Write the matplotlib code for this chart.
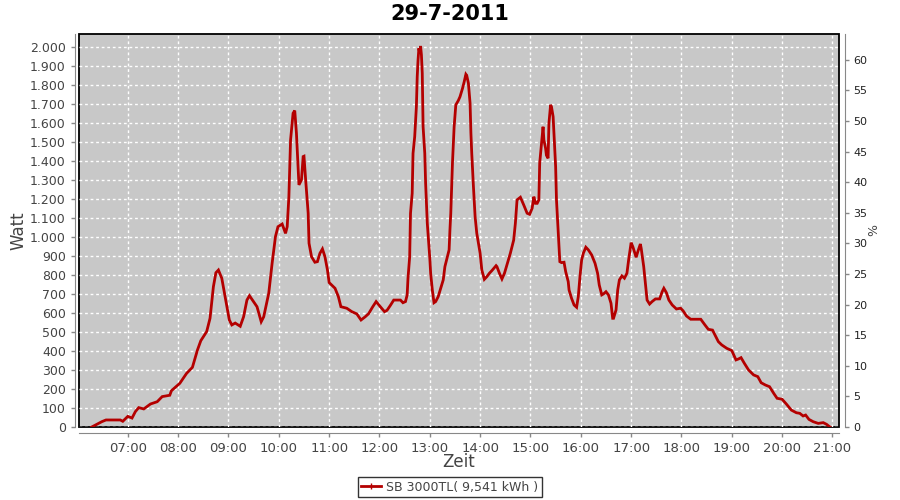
import matplotlib.pyplot as plt
from matplotlib.ticker import FuncFormatter, MultipleLocator
from matplotlib.lines import Line2D

# sample times (HH:MM) and power in Watt
times = [
    "06:17", "06:29", "06:34", "06:51", "06:54", "07:00", "07:05", "07:09", "07:13", "07:19",
    "07:27", "07:35", "07:41", "07:50", "07:52", "08:02", "08:10", "08:17", "08:23", "08:27",
    "08:34", "08:38", "08:42", "08:45", "08:48", "08:52", "08:56", "09:01", "09:04", "09:08",
    "09:14", "09:18", "09:22", "09:25", "09:29", "09:34", "09:39", "09:42", "09:48", "09:52",
    "09:56", "09:59", "10:04", "10:08", "10:10", "10:12", "10:14", "10:17", "10:19", "10:21",
    "10:23", "10:24", "10:27", "10:29", "10:30", "10:32", "10:35", "10:36", "10:39", "10:43",
    "10:46", "10:49", "10:52", "10:55", "10:58", "11:00", "11:07", "11:11", "11:14", "11:21",
    "11:27", "11:33", "11:38", "11:43", "11:47", "11:52", "11:56", "12:01", "12:06", "12:09",
    "12:13", "12:17", "12:25", "12:28", "12:31", "12:33", "12:34", "12:36", "12:37", "12:39",
    "12:40", "12:42", "12:44", "12:45", "12:46", "12:47", "12:48", "12:49", "12:50", "12:51",
    "12:52", "12:54", "12:55", "12:57", "13:00", "13:01", "13:03", "13:05", "13:07", "13:10",
    "13:13", "13:16", "13:18", "13:21", "13:23", "13:24", "13:25", "13:27", "13:29", "13:31",
    "13:34", "13:36", "13:39", "13:41", "13:43", "13:44", "13:46", "13:48", "13:49", "13:50",
    "13:52", "13:54", "13:56", "13:58", "14:00", "14:02", "14:05", "14:08", "14:11", "14:14",
    "14:19", "14:20", "14:23", "14:26", "14:29", "14:33", "14:36", "14:40", "14:42", "14:44",
    "14:48", "14:52", "14:56", "14:59", "15:02", "15:04", "15:06", "15:08", "15:10", "15:11",
    "15:14", "15:15", "15:16", "15:18", "15:19", "15:21", "15:22", "15:24", "15:25", "15:27",
    "15:28", "15:30", "15:31", "15:33", "15:35", "15:37", "15:40", "15:42", "15:45", "15:46",
    "15:49", "15:52", "15:55", "15:57", "15:59", "16:01", "16:03", "16:06", "16:09", "16:13",
    "16:17", "16:20", "16:22", "16:25", "16:27", "16:30", "16:33", "16:36", "16:38", "16:39",
    "16:42", "16:44", "16:46", "16:49", "16:52", "16:55", "16:57", "17:00", "17:02", "17:06",
    "17:08", "17:11", "17:12", "17:15", "17:17", "17:19", "17:22", "17:25", "17:29", "17:34",
    "17:37", "17:39", "17:42", "17:45", "17:49", "17:54", "17:59", "18:02", "18:06", "18:11",
    "18:23", "18:28", "18:32", "18:37", "18:40", "18:44", "18:48", "18:54", "19:00", "19:05",
    "19:08", "19:11", "19:15", "19:20", "19:26", "19:31", "19:35", "19:40", "19:45", "19:50",
    "19:54", "20:00", "20:05", "20:11", "20:17", "20:21", "20:25", "20:28", "20:32", "20:37",
    "20:43", "20:49", "20:53", "20:57",
]
watt = [
    0, 28, 37, 37, 30, 56, 47, 81, 102, 95,
    121, 133, 160, 167, 191, 230, 282, 314, 405, 454,
    502, 572, 738, 812, 826, 783, 686, 563, 537, 547,
    530, 580, 668, 691, 665, 633, 554, 580, 704, 861,
    1002, 1054, 1068, 1019, 1054, 1212, 1510, 1651, 1665, 1546,
    1370, 1274, 1300, 1423, 1425, 1300, 1125, 967, 896, 867,
    870, 914, 937, 896, 826, 760, 730, 686, 633, 625,
    607, 595, 563, 580, 596, 633, 660, 633, 607, 614,
    640, 668, 668, 654, 660, 695, 783, 896, 1125, 1230,
    1440, 1528, 1686, 1844, 1932, 1993, 1967, 2005, 1958, 1861,
    1580, 1440, 1283, 1072, 888, 809, 721, 654, 660, 686,
    730, 774, 844, 896, 932, 1037, 1125, 1388, 1580, 1695,
    1718, 1738, 1782, 1817, 1856, 1850, 1809, 1704, 1546, 1440,
    1265, 1107, 1019, 967, 914, 826, 777, 791, 809, 823,
    849, 844, 809, 779, 809, 870, 914, 984, 1072, 1195,
    1209, 1168, 1125, 1119, 1151, 1212, 1177, 1177, 1195, 1388,
    1528, 1580, 1510, 1467, 1430, 1414, 1598, 1695, 1686, 1633,
    1546, 1370, 1195, 1037, 870, 865, 867, 817, 765, 721,
    677, 642, 630, 686, 791, 879, 914, 946, 932, 905,
    861, 809, 747, 695, 700, 712, 695, 651, 572, 572,
    616, 721, 774, 795, 783, 809, 879, 970, 949, 893,
    923, 963, 940, 844, 756, 668, 647, 660, 674, 674,
    712, 730, 707, 668, 642, 621, 625, 611, 584, 567,
    567, 537, 514, 510, 484, 449, 432, 414, 402, 353,
    358, 365, 335, 300, 274, 265, 233, 221, 212, 177,
    151, 146, 121, 89, 75, 72, 58, 63, 40, 28,
    19, 23, 14, 0,
]

hours = [int(t[:2]) + int(t[3:]) / 60 for t in times]

TEXT = "#444444"
AXIS = "#888888"

fig = plt.figure(figsize=(9, 5), dpi=100)
ax = fig.add_axes([79 / 900, 1 - 427 / 500, 760 / 900, 393 / 500])
ax.set_facecolor("#c8c8c8")
ax.patch.set_edgecolor("black")
ax.patch.set_linewidth(1.3)

ax.plot(hours, watt, color="#b40000", linewidth=2.0, solid_joinstyle="miter")

ax.set_xlim(6.03, 21.13)
ax.set_ylim(0, 2068)
ax.xaxis.set_major_locator(MultipleLocator(1))
ax.xaxis.set_major_formatter(FuncFormatter(lambda v, p: f"{int(round(v)):02d}:00"))
ax.yaxis.set_major_locator(MultipleLocator(100))
ax.yaxis.set_major_formatter(FuncFormatter(lambda v, p: f"{int(v):,}".replace(",", ".")))
ax.grid(True, color="white", linestyle=(0, (2, 2)), linewidth=1)

for s in ["top", "right"]:
    ax.spines[s].set_visible(False)
ax.spines["left"].set_position(("outward", 3))
ax.spines["bottom"].set_position(("outward", 4))
ax.spines["left"].set_color(AXIS)
ax.spines["bottom"].set_color(AXIS)
ax.tick_params(colors=AXIS, labelcolor=TEXT, length=3, width=1)
ax.tick_params(axis="y", labelsize=9)
ax.tick_params(axis="x", labelsize=9.5)

ax.set_ylabel("Watt", fontsize=12, color=TEXT, labelpad=2)
ax.set_xlabel("Zeit", fontsize=12, color=TEXT, labelpad=-1)

ax2 = ax.twinx()
ax2.set_ylim(0, 64.2)
ax2.yaxis.set_major_locator(MultipleLocator(5))
for s in ["top", "left", "bottom"]:
    ax2.spines[s].set_visible(False)
ax2.spines["right"].set_position(("outward", 4))
ax2.spines["right"].set_color(AXIS)
ax2.tick_params(colors=AXIS, labelcolor="#222222", labelsize=8, length=3, width=1)
ax2.set_ylabel("%", fontsize=9, color=TEXT, labelpad=0)

fig.suptitle("29-7-2011", x=0.5, y=1 - 4 / 500, va="top", fontsize=15, fontweight="bold")

handle = Line2D([], [], color="#b40000", linewidth=2, marker="|", markersize=4)
fig.legend([handle], ["SB 3000TL( 9,541 kWh )"], loc="center", bbox_to_anchor=(450 / 900, 1 - 487 / 500),
           fontsize=9, frameon=True, fancybox=False, edgecolor="black", handlelength=1.6,
           borderpad=0.3, handletextpad=0.4, labelcolor=TEXT)

fig.savefig("out.png", dpi=100)
